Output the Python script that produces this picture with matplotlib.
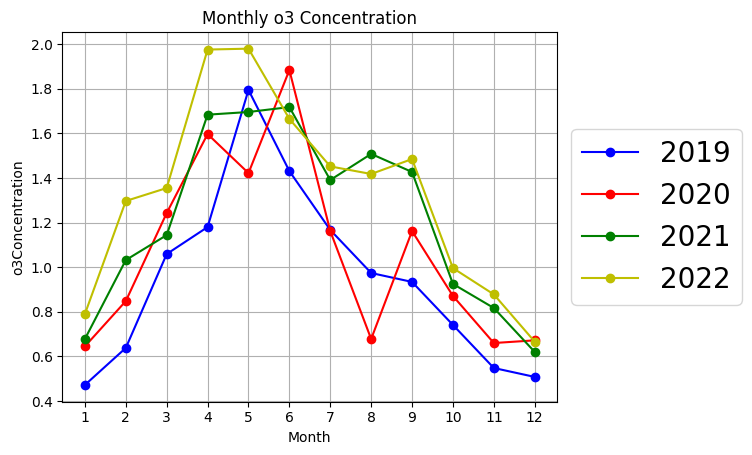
import matplotlib
matplotlib.use('Agg')
import matplotlib.pyplot as plt

months = [1, 2, 3, 4, 5, 6, 7, 8, 9, 10, 11, 12]
years = ['2019', '2020', '2021', '2022']
colors = ['b', 'r', 'g', 'y']

o3_2019 = [0.472, 0.638, 1.059, 1.18, 1.795, 1.431, 1.167, 0.974, 0.934, 0.741, 0.548, 0.508]
o3_2020 = [0.645, 0.848, 1.243, 1.597, 1.422, 1.884, 1.162, 0.678, 1.162, 0.871, 0.66, 0.672]
o3_2021 = [0.678, 1.032, 1.144, 1.684, 1.696, 1.718, 1.391, 1.508, 1.427, 0.925, 0.817, 0.62]
o3_2022 = [0.79, 1.297, 1.355, 1.976, 1.98, 1.665, 1.452, 1.418, 1.485, 0.996, 0.878, 0.666]
series = [o3_2019, o3_2020, o3_2021, o3_2022]

fig, ax = plt.subplots(figsize=(7.52, 4.55), dpi=100)
for year, vals, c in zip(years, series, colors):
    ax.plot(months, vals, marker='o', color=c, label=year)

ax.set_title('Monthly o3 Concentration')
ax.set_xlabel('Month')
ax.set_ylabel('o3Concentration')
ax.set_xticks(months)
ax.grid(True)
ax.legend(loc='center left', bbox_to_anchor=(1.0, 0.5), fontsize=20)
fig.subplots_adjust(left=0.083, right=0.741, top=0.93, bottom=0.117)
fig.savefig('out.png')
